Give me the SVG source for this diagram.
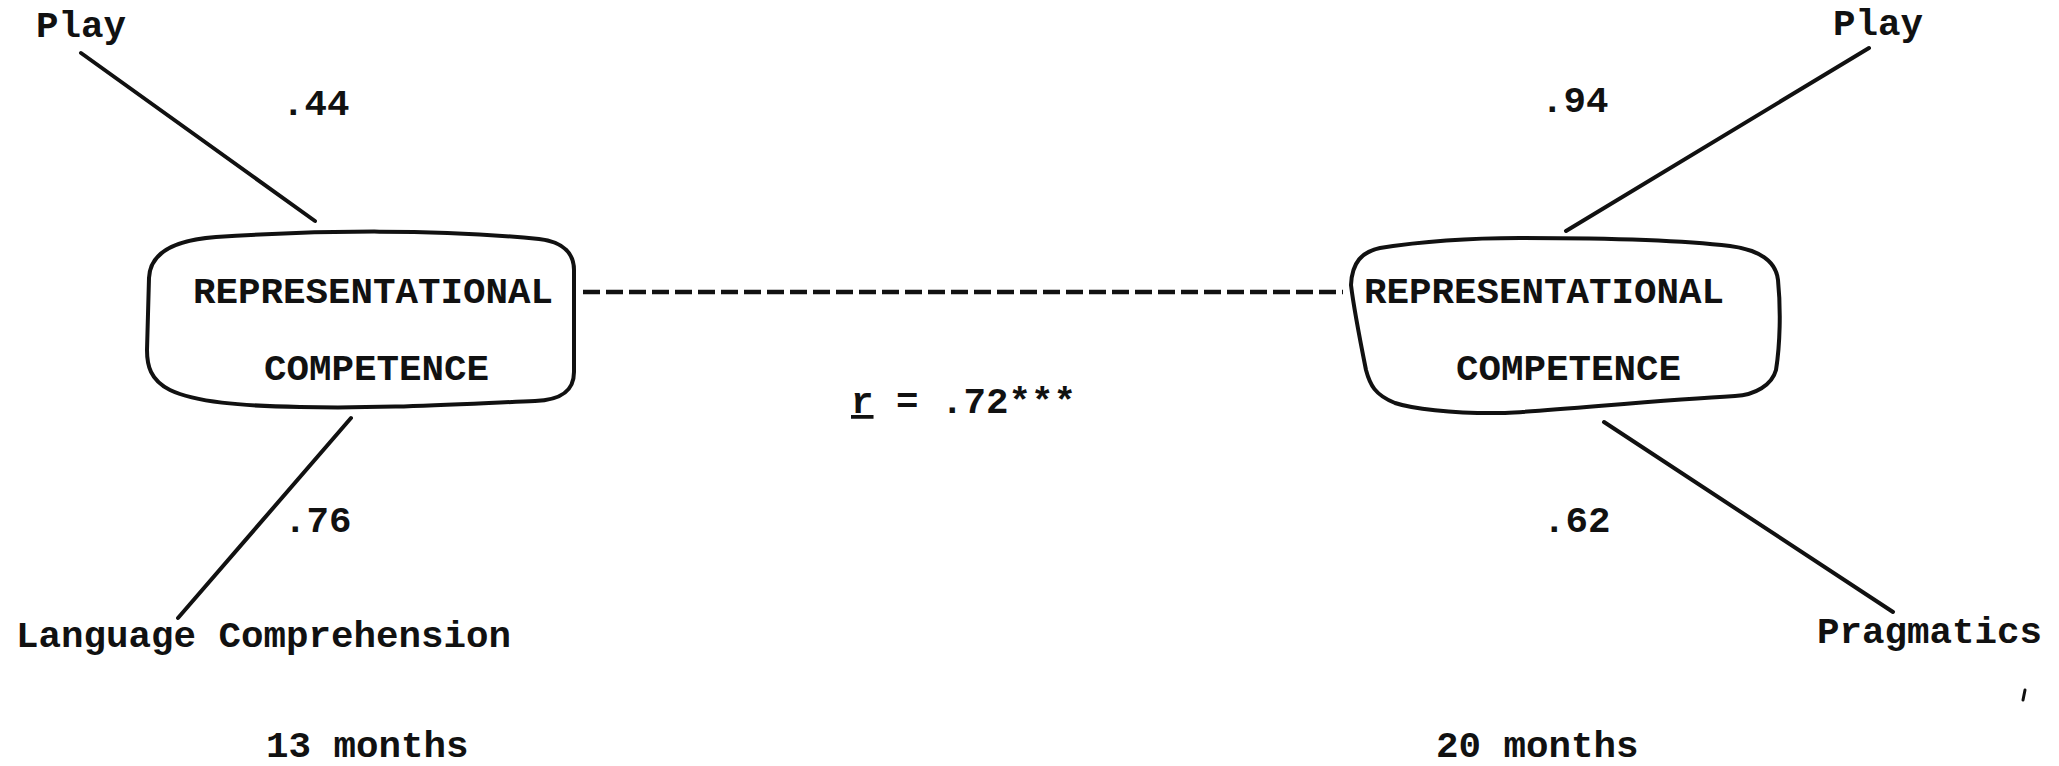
<svg xmlns="http://www.w3.org/2000/svg" width="2059" height="766" viewBox="0 0 2059 766">
<style>
  text { font-family: "Liberation Mono", "Courier New", monospace; font-weight: bold; font-size: 37.5px; fill: #111; }
  .box { fill: none; stroke: #111; stroke-width: 4; stroke-linejoin: round; }
  .conn { stroke: #111; stroke-width: 4; stroke-linecap: round; fill: none; }
  .dash { stroke: #111; stroke-width: 4.5; stroke-dasharray: 17 6; fill: none; }
</style>
<rect width="2059" height="766" fill="#fff"/>
<g id="connectors">
  <line class="conn" x1="81" y1="53" x2="315" y2="221"/>
  <line class="conn" x1="351" y1="418" x2="178" y2="618"/>
  <line class="conn" x1="1869" y1="48" x2="1566" y2="231"/>
  <line class="conn" x1="1604" y1="422" x2="1893" y2="612"/>
  <line class="dash" x1="583" y1="292" x2="1343" y2="292"/>
  <text x="851" y="413"><tspan style="text-decoration:underline">r</tspan> = .72***</text>
  <text x="282" y="115">.44</text>
  <text x="284" y="532">.76</text>
  <text x="1541" y="112">.94</text>
  <text x="1543" y="532">.62</text>
</g>
<g id="rc13">
  <path class="box" d="M 149,278 C 150,252 175,240 216,237 C 320,230 440,229 539,239 C 565,242 574,255 574,270 L 574,372 C 574,392 560,400 535,401 C 460,404 380,409 300,407 C 240,406 195,402 170,390 C 150,380 147,365 147,350 Z"/>
  <text x="193" y="303">REPRESENTATIONAL</text>
  <text x="264" y="380">COMPETENCE</text>
</g>
<g id="rc20">
  <path class="box" d="M 1351,285 C 1352,262 1362,252 1380,248 C 1430,240 1480,238 1520,238 C 1600,238 1680,240 1730,246 C 1760,250 1776,262 1778,280 C 1781,310 1780,345 1776,370 C 1772,385 1755,395 1735,396 C 1660,400 1560,410 1505,413 C 1450,414 1410,408 1395,403 C 1375,395 1370,385 1366,370 C 1360,340 1354,310 1351,285 Z"/>
  <text x="1364" y="303">REPRESENTATIONAL</text>
  <text x="1456" y="380">COMPETENCE</text>
</g>
<g id="play13"><text x="36" y="37">Play</text></g>
<g id="lang13"><text x="16" y="647">Language Comprehension</text></g>
<g id="play20"><text x="1833" y="35">Play</text></g>
<g id="prag20"><text x="1817" y="643">Pragmatics</text></g>
<g id="age13"><text x="266" y="757">13 months</text></g>
<g id="age20"><text x="1436" y="757">20 months</text></g>
<path d="M 2025,690 L 2023,700" stroke="#111" stroke-width="3" stroke-linecap="round"/>
</svg>
